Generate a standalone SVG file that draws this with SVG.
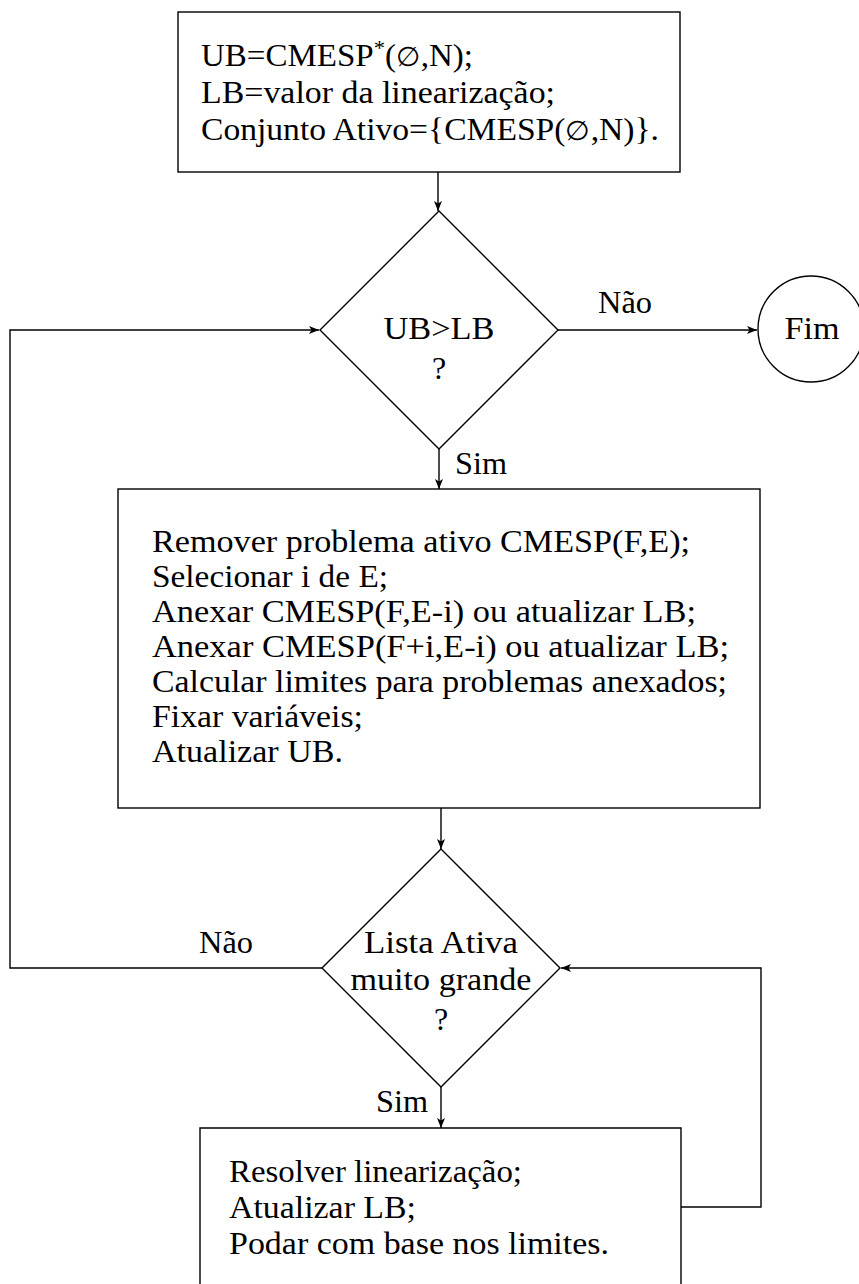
<svg xmlns="http://www.w3.org/2000/svg" width="859" height="1284" viewBox="0 0 859 1284">
<defs>
<marker id="ah" viewBox="0 0 10 8" refX="10" refY="4" markerWidth="10" markerHeight="8" markerUnits="userSpaceOnUse" orient="auto">
<path d="M0,0 L10,4 L0,8 L2.5,4 Z" fill="#000"/>
</marker>
<style>
.s{fill:none;stroke:#000;stroke-width:1.4}
.c{fill:none;stroke:#000;stroke-width:1.4;marker-end:url(#ah)}
text{font-family:"Liberation Serif","DejaVu Serif",serif;font-size:32px;fill:#000}
.m{text-anchor:middle}
.e{font-size:27px}
</style>
</defs>
<rect width="859" height="1284" fill="#fff"/>
<g id="connectors">
<path class="c" d="M438,172 L438,211"/>
<path class="c" d="M558,330 L757,330"/>
<path class="c" d="M322,968 L10,968 L10,330 L319,330"/>
<path class="c" d="M439,449 L439,489"/>
<path class="c" d="M441,808 L441,849"/>
<path class="c" d="M441,1087 L441,1128"/>
<path class="c" d="M681,1207 L761,1207 L761,968 L561,968"/>
<text x="625" y="313" class="m" textLength="54" lengthAdjust="spacingAndGlyphs">Não</text>
<text x="455" y="474" textLength="52" lengthAdjust="spacingAndGlyphs">Sim</text>
<text x="226" y="953" class="m" textLength="54" lengthAdjust="spacingAndGlyphs">Não</text>
<text x="428" y="1112" text-anchor="end" textLength="52" lengthAdjust="spacingAndGlyphs">Sim</text>
</g>
<g id="init">
<rect class="s" x="178" y="12" width="502" height="160"/>
<text x="201" y="66" textLength="272" lengthAdjust="spacingAndGlyphs">UB=CMESP<tspan dy="-11" font-size="22">*</tspan><tspan dy="11">(</tspan><tspan class="e">∅</tspan>,N);</text>
<text x="201" y="103" textLength="354" lengthAdjust="spacingAndGlyphs">LB=valor da linearização;</text>
<text x="201" y="140" textLength="458" lengthAdjust="spacingAndGlyphs">Conjunto Ativo={CMESP(<tspan class="e">∅</tspan>,N)}.</text>
</g>
<g id="test1">
<path class="s" d="M439,211 L558,330 L439,449 L320,330 Z"/>
<text x="439" y="339" class="m" textLength="111" lengthAdjust="spacingAndGlyphs">UB&gt;LB</text>
<text x="439" y="379" class="m">?</text>
</g>
<g id="fim">
<circle class="s" cx="811" cy="329" r="53"/>
<text x="812" y="339" class="m" textLength="55" lengthAdjust="spacingAndGlyphs">Fim</text>
</g>
<g id="branch">
<rect class="s" x="118" y="489" width="642" height="319"/>
<text x="152" y="552" textLength="538" lengthAdjust="spacingAndGlyphs">Remover problema ativo CMESP(F,E);</text>
<text x="152" y="587" textLength="236" lengthAdjust="spacingAndGlyphs">Selecionar i de E;</text>
<text x="152" y="622" textLength="544" lengthAdjust="spacingAndGlyphs">Anexar CMESP(F,E-i) ou atualizar LB;</text>
<text x="152" y="657" textLength="577" lengthAdjust="spacingAndGlyphs">Anexar CMESP(F+i,E-i) ou atualizar LB;</text>
<text x="152" y="692" textLength="575" lengthAdjust="spacingAndGlyphs">Calcular limites para problemas anexados;</text>
<text x="152" y="727" textLength="211" lengthAdjust="spacingAndGlyphs">Fixar variáveis;</text>
<text x="152" y="762" textLength="191" lengthAdjust="spacingAndGlyphs">Atualizar UB.</text>
</g>
<g id="test2">
<path class="s" d="M441,849 L560,968 L441,1087 L322,968 Z"/>
<text x="441" y="953" class="m" textLength="154" lengthAdjust="spacingAndGlyphs">Lista Ativa</text>
<text x="441" y="990" class="m" textLength="181" lengthAdjust="spacingAndGlyphs">muito grande</text>
<text x="441" y="1030" class="m">?</text>
</g>
<g id="prune">
<path class="s" d="M200,1290 L200,1128 L681,1128 L681,1290"/>
<text x="229" y="1182" textLength="293" lengthAdjust="spacingAndGlyphs">Resolver linearização;</text>
<text x="229" y="1218" textLength="187" lengthAdjust="spacingAndGlyphs">Atualizar LB;</text>
<text x="229" y="1254" textLength="380" lengthAdjust="spacingAndGlyphs">Podar com base nos limites.</text>
</g>
</svg>
